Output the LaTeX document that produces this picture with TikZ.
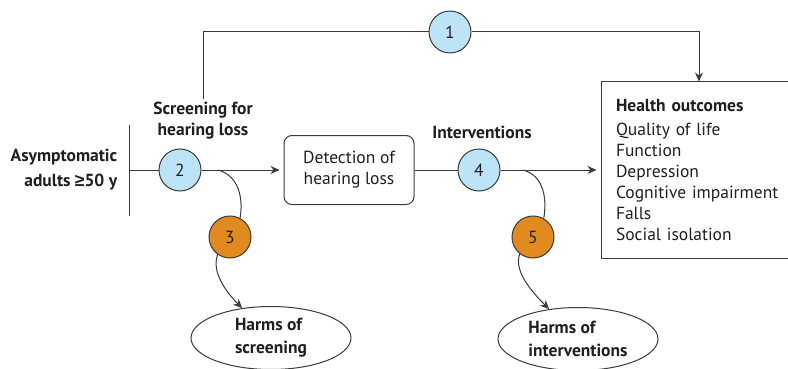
\documentclass[tikz,border=0pt]{standalone}
\usepackage{fontspec}
\setmainfont{PT Sans}
\newfontfamily\symfont{Liberation Sans}
\usetikzlibrary{arrows.meta,shapes.geometric}
\definecolor{kqblue}{HTML}{BDE3F6}
\definecolor{kqorange}{HTML}{E08A1F}
\definecolor{ink}{HTML}{3A3A3A}
\begin{document}
\begin{tikzpicture}[x=1pt,y=-1pt,line width=1pt,draw=ink,
	every node/.style={font=\fontsize{17.5}{21}\selectfont,text=black!88},
	kq/.style={circle,draw=ink,minimum size=42pt,inner sep=0pt},
	kqb/.style={kq,fill=kqblue},
	kqo/.style={kq,fill=kqorange},
	lbl/.style={align=center,font=\fontsize{17.5}{21}\selectfont\bfseries},
	harm/.style={ellipse,draw=ink,minimum width=160pt,minimum height=63pt,inner sep=0pt,align=left,font=\fontsize{17.5}{23}\selectfont\bfseries},
	arr/.style={-{Stealth[length=9pt,width=8pt]},draw=ink}]
\useasboundingbox (0,0) rectangle (788,369);
%population
\draw (129,125) -- (129,216);
\coordinate (bar) at (129,170);
\node[anchor=east,align=right,font=\fontsize{17.5}{25}\selectfont\bfseries] (pop) at (121,170) {Asymptomatic\\adults {\symfont\bfseries ≥}50 y};
\node[lbl] (scr) at (203,121) {Screening for\\hearing loss};
\node[lbl] (int) at (482,132) {Interventions};
%boxes
\node[draw=ink,rounded corners=8pt,minimum width=130pt,minimum height=69pt,align=center] (det) at (349,170) {Detection of\\hearing loss};
\node[draw=ink,minimum width=196pt,minimum height=176pt,inner xsep=15pt,text width=166pt,align=left] (ho) at (699,170)
	{{\bfseries Health outcomes}\\[3pt]Quality of life\\Function\\Depression\\Cognitive impairment\\Falls\\Social isolation};
\node[harm] (hs) at (271,338) {Harms of\\screening};
\node[harm] (hi) at (578,339) {Harms of\\interventions};
%key questions
\node[kqb] (kq1) at (450,32) {1};
\node[kqb] (kq2) at (180,170) {2};
\node[kqo] (kq3) at (230,237) {3};
\node[kqb] (kq4) at (479,170) {4};
\node[kqo] (kq5) at (533,237) {5};
%connectors
\draw (scr.north) |- (kq1);
\draw[arr] (kq1) -| (ho.north);
\draw (bar) -- (kq2);
\draw[arr,shorten >=4pt] (kq2) -- (det);
\draw (det) -- (kq4);
\draw[arr,shorten >=4pt] (kq4) -- (ho);
\coordinate (b2) at (218,170);
\coordinate (b4) at (523,170);
\draw (b2) .. controls +(22,6) and +(3,-18) .. (kq3.62);
\draw[arr] (kq3.235) .. controls +(-7,18) and +(-14,-14) .. (hs.134);
\draw (b4) .. controls +(22,6) and +(3,-18) .. (kq5.60);
\draw[arr] (kq5.232) .. controls +(-7,18) and +(-14,-14) .. (hi.134);
\end{tikzpicture}
\end{document}
